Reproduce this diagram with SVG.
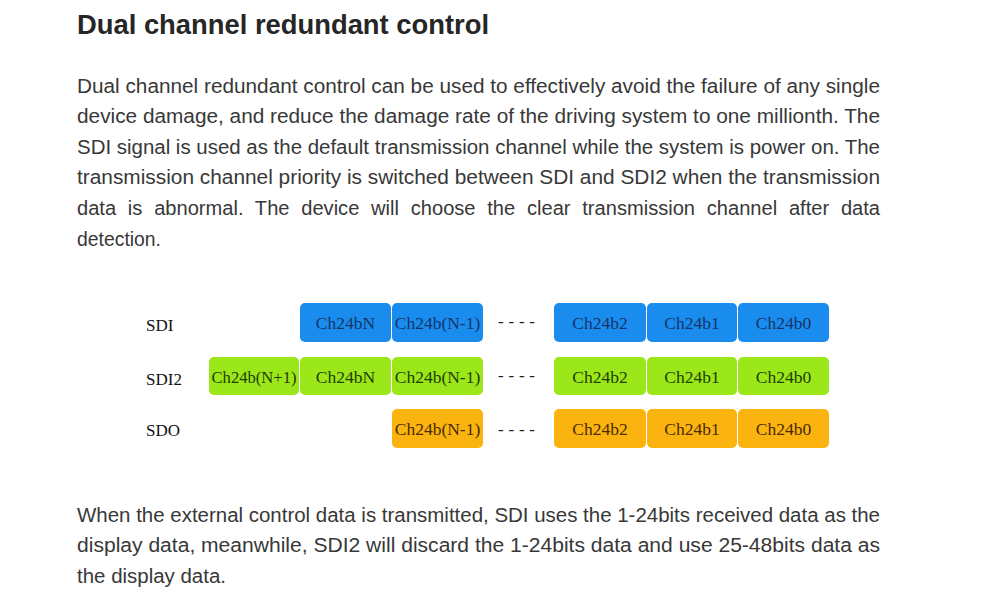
<svg xmlns="http://www.w3.org/2000/svg" width="1000" height="592" viewBox="0 0 1000 592">
<style>
.title{font-family:"Liberation Sans",Arial,sans-serif;font-weight:bold;font-size:27px;fill:#262626}
.body{font-family:"Liberation Sans",Arial,sans-serif;font-size:19.5px;fill:#383838}
.lbl{font-family:"Liberation Serif","Times New Roman",serif;font-size:17px;fill:#111}
.bt{font-family:"Liberation Serif","Times New Roman",serif;font-size:17.5px;text-anchor:middle}
.blue rect{fill:#1a8cee}
.blue text{fill:#15346a}
.green rect{fill:#9ce71a}
.green text{fill:#1c4000}
.orange rect{fill:#fbb40f}
.orange text{fill:#4a2a00}
.dash{font-family:"Liberation Serif","Times New Roman",serif;font-size:17px;fill:#222}
</style>
<rect width="1000" height="592" fill="#ffffff"/>
<text class="title" x="77" y="34" textLength="412" lengthAdjust="spacingAndGlyphs">Dual channel redundant control</text>
<g id="intro">
<text class="body" x="77" y="92.5" textLength="803" lengthAdjust="spacingAndGlyphs">Dual channel redundant control can be used to effectively avoid the failure of any single</text>
<text class="body" x="77" y="123" textLength="803" lengthAdjust="spacingAndGlyphs">device damage, and reduce the damage rate of the driving system to one millionth. The</text>
<text class="body" x="77" y="153.5" textLength="803" lengthAdjust="spacingAndGlyphs">SDI signal is used as the default transmission channel while the system is power on. The</text>
<text class="body" x="77" y="184" textLength="803" lengthAdjust="spacingAndGlyphs">transmission channel priority is switched between SDI and SDI2 when the transmission</text>
<text class="body" x="77" y="215" word-spacing="6" textLength="803" lengthAdjust="spacingAndGlyphs">data is abnormal. The device will choose the clear transmission channel after data</text>
<text class="body" x="77" y="245.5" textLength="84" lengthAdjust="spacingAndGlyphs">detection.</text>
</g>
<g id="labels">
<text class="lbl" x="146" y="331">SDI</text>
<text class="lbl" x="146" y="385">SDI2</text>
<text class="lbl" x="146" y="436">SDO</text>
</g>
<g id="sdi" class="blue">
<g id="sdi-n"><rect x="300" y="303" width="91" height="39" rx="5"/><text class="bt" x="345.5" y="328.5">Ch24bN</text></g>
<g id="sdi-n1"><rect x="392" y="303" width="91" height="39" rx="5"/><text class="bt" x="437.5" y="328.5">Ch24b(N-1)</text></g>
<g id="sdi-b2"><rect x="554" y="303" width="92" height="39" rx="5"/><text class="bt" x="600" y="328.5">Ch24b2</text></g>
<g id="sdi-b1"><rect x="647" y="303" width="90" height="39" rx="5"/><text class="bt" x="692" y="328.5">Ch24b1</text></g>
<g id="sdi-b0"><rect x="738" y="303" width="91" height="39" rx="5"/><text class="bt" x="783.5" y="328.5">Ch24b0</text></g>
</g>
<g id="sdi2" class="green">
<g id="sdi2-np1"><rect x="209" y="357" width="90" height="38" rx="5"/><text class="bt" x="254" y="382.5" textLength="85" lengthAdjust="spacingAndGlyphs">Ch24b(N+1)</text></g>
<g id="sdi2-n"><rect x="300" y="357" width="91" height="38" rx="5"/><text class="bt" x="345.5" y="382.5">Ch24bN</text></g>
<g id="sdi2-n1"><rect x="392" y="357" width="91" height="38" rx="5"/><text class="bt" x="437.5" y="382.5">Ch24b(N-1)</text></g>
<g id="sdi2-b2"><rect x="554" y="357" width="92" height="38" rx="5"/><text class="bt" x="600" y="382.5">Ch24b2</text></g>
<g id="sdi2-b1"><rect x="647" y="357" width="90" height="38" rx="5"/><text class="bt" x="692" y="382.5">Ch24b1</text></g>
<g id="sdi2-b0"><rect x="738" y="357" width="91" height="38" rx="5"/><text class="bt" x="783.5" y="382.5">Ch24b0</text></g>
</g>
<g id="sdo" class="orange">
<g id="sdo-n1"><rect x="392" y="409" width="91" height="39" rx="5"/><text class="bt" x="437.5" y="434.5">Ch24b(N-1)</text></g>
<g id="sdo-b2"><rect x="554" y="409" width="92" height="39" rx="5"/><text class="bt" x="600" y="434.5">Ch24b2</text></g>
<g id="sdo-b1"><rect x="647" y="409" width="90" height="39" rx="5"/><text class="bt" x="692" y="434.5">Ch24b1</text></g>
<g id="sdo-b0"><rect x="738" y="409" width="91" height="39" rx="5"/><text class="bt" x="783.5" y="434.5">Ch24b0</text></g>
</g>
<g id="ellipses">
<text class="dash" x="498" y="327" textLength="37" lengthAdjust="spacing">- - - -</text>
<text class="dash" x="498" y="381" textLength="37" lengthAdjust="spacing">- - - -</text>
<text class="dash" x="498" y="435" textLength="37" lengthAdjust="spacing">- - - -</text>
</g>
<g id="outro">
<text class="body" x="77" y="521.5" textLength="803" lengthAdjust="spacingAndGlyphs">When the external control data is transmitted, SDI uses the 1-24bits received data as the</text>
<text class="body" x="77" y="552" textLength="803" lengthAdjust="spacingAndGlyphs">display data, meanwhile, SDI2 will discard the 1-24bits data and use 25-48bits data as</text>
<text class="body" x="77" y="582.5" textLength="149" lengthAdjust="spacingAndGlyphs">the display data.</text>
</g>
</svg>
